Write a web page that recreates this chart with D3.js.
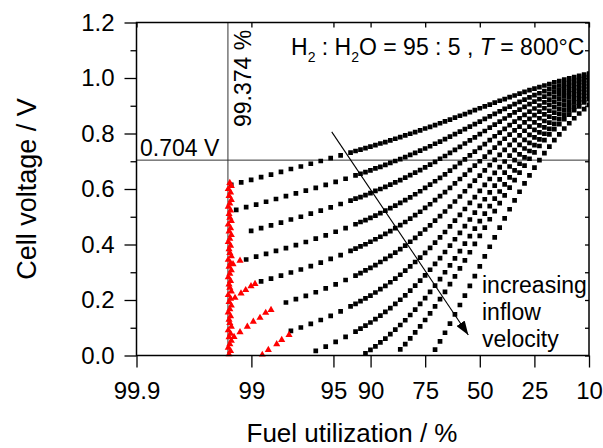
<!DOCTYPE html>
<html>
<head>
<meta charset="utf-8">
<script src="https://cdn.jsdelivr.net/npm/d3@7"></script>
<style>
  body { margin: 0; background: #fff; }
  svg text { font-family: Arial, "Liberation Sans", sans-serif; white-space: pre; }
</style>
</head>
<body>
<svg id="chart"></svg>
<script>
// Dimensions
const width = 603;
const height = 448;
const margin = { top: 22.5, right: 14, bottom: 92.5, left: 136.5 };

// Axis ticks
const xTicks = [99.9, 99, 95, 90, 75, 50, 25, 10];
const xTickLabels = ["99.9", "99", "95", "90", "75", "50", "25", "10"];
const yTicks = [0, 0.2, 0.4, 0.6, 0.8, 1.0, 1.2];
const yMinor = [0.1, 0.3, 0.5, 0.7, 0.9, 1.1];

// Reference values marked on the chart
const refVoltage = 0.704;
const refUtilization = 99.374;

// Fuel utilization (%) at which the voltage of every curve is read
const fuGrid = [
  99.331, 99.261, 99.184, 99.099, 99.005, 98.901, 98.787, 98.661, 98.523, 98.370,
  98.201, 98.016, 97.812, 97.587, 97.340, 97.069, 96.771, 96.443, 96.083, 95.689,
  95.257, 94.785, 94.268, 93.703, 93.086, 92.414, 91.683, 90.888, 90.025, 89.090,
  88.080, 86.989, 85.815, 84.554, 83.202, 81.757, 80.218, 78.584, 76.852, 75.026,
  73.106, 71.095, 68.997, 66.819, 64.566, 62.246, 59.869, 57.444, 54.983, 52.498,
  50.000, 47.502, 45.017, 42.556, 40.131, 37.754, 35.434, 33.181, 31.003, 28.905,
  26.894, 24.974, 23.148, 21.416, 19.782, 18.243, 16.798, 15.447, 14.185, 13.011,
  11.920, 10.910, 9.975
];

const _ = null;
const lead = (n, values) => Array(n).fill(null).concat(values);

// Cell voltage (V), one array per inflow velocity (lowest first)
const curve1 = [
  0.615, _, 0.624, _, 0.633, _, 0.643, _, 0.652, _,
  0.662, _, 0.672, _, 0.681, _, 0.691, _, 0.701, _,
  0.711, _, 0.721, _, 0.731, 0.737, 0.742, 0.747, 0.753, 0.758,
  0.764, 0.769, 0.775, 0.781, 0.787, 0.793, 0.799, 0.805, 0.811, 0.818,
  0.824, 0.830, 0.837, 0.844, 0.850, 0.857, 0.864, 0.870, 0.877, 0.884,
  0.891, 0.898, 0.904, 0.911, 0.918, 0.924, 0.931, 0.937, 0.944, 0.950,
  0.956, 0.962, 0.967, 0.973, 0.978, 0.984, 0.989, 0.994, 0.999, 1.003,
  1.008, 1.012, 1.016
];
const curve2 = [
  _, 0.525, _, 0.535, _, 0.544, _, 0.554, _, 0.564,
  _, 0.574, _, 0.584, _, 0.594, _, 0.604, _, 0.615,
  _, 0.626, _, 0.637, _, 0.649, 0.655, 0.661, 0.667, 0.674,
  0.680, 0.687, 0.694, 0.701, 0.708, 0.715, 0.723, 0.730, 0.738, 0.746,
  0.754, 0.763, 0.771, 0.780, 0.789, 0.798, 0.807, 0.816, 0.825, 0.834,
  0.843, 0.853, 0.862, 0.871, 0.880, 0.889, 0.897, 0.906, 0.914, 0.922,
  0.930, 0.938, 0.945, 0.953, 0.960, 0.966, 0.973, 0.979, 0.985, 0.991,
  0.996, 1.002, 1.007
];
const curve3 = [
  _, _, _, _, 0.449, _, 0.459, _, 0.469, _,
  0.479, _, 0.490, _, 0.500, _, 0.511, _, 0.522, _,
  0.534, _, 0.546, _, 0.558, 0.565, 0.571, 0.578, 0.585, 0.593,
  0.600, 0.608, 0.616, 0.624, 0.632, 0.641, 0.650, 0.659, 0.668, 0.678,
  0.688, 0.698, 0.709, 0.719, 0.730, 0.741, 0.752, 0.764, 0.775, 0.786,
  0.798, 0.809, 0.821, 0.832, 0.843, 0.854, 0.865, 0.876, 0.886, 0.896,
  0.906, 0.915, 0.924, 0.933, 0.942, 0.950, 0.958, 0.965, 0.972, 0.979,
  0.986, 0.992, 0.998
];
const curve4 = [
  _, _, _, 0.346, _, 0.356, _, 0.366, _, 0.377,
  _, 0.387, _, 0.398, _, 0.409, _, 0.421, _, 0.433,
  _, 0.446, _, 0.459, _, 0.473, 0.481, 0.488, 0.496, 0.504,
  0.513, 0.522, 0.531, 0.540, 0.550, 0.560, 0.570, 0.581, 0.592, 0.604,
  0.616, 0.628, 0.640, 0.653, 0.666, 0.680, 0.693, 0.707, 0.721, 0.735,
  0.748, 0.762, 0.776, 0.790, 0.803, 0.817, 0.830, 0.843, 0.855, 0.867,
  0.879, 0.890, 0.901, 0.912, 0.922, 0.932, 0.941, 0.950, 0.958, 0.966,
  0.974, 0.981, 0.988
];
const curve5 = [
  _, _, _, _, _, _, 0.267, _, 0.277, _,
  0.288, _, 0.299, _, 0.310, _, 0.322, _, 0.335, _,
  0.348, _, 0.362, _, 0.377, 0.385, 0.393, 0.401, 0.410, 0.419,
  0.428, 0.438, 0.448, 0.459, 0.470, 0.481, 0.493, 0.506, 0.518, 0.532,
  0.545, 0.560, 0.574, 0.589, 0.604, 0.620, 0.636, 0.652, 0.668, 0.684,
  0.700, 0.717, 0.733, 0.749, 0.765, 0.781, 0.796, 0.811, 0.825, 0.840,
  0.853, 0.866, 0.879, 0.891, 0.903, 0.914, 0.925, 0.935, 0.945, 0.954,
  0.962, 0.970, 0.978
];
const curve6 = lead(10, [
  _, 0.191, _, 0.203, _, 0.215, _, 0.228, _, 0.242,
  _, 0.256, _, 0.272, _, 0.288, 0.297, 0.307, 0.316, 0.326,
  0.337, 0.348, 0.359, 0.371, 0.383, 0.396, 0.410, 0.424, 0.439, 0.454,
  0.469, 0.486, 0.502, 0.519, 0.537, 0.555, 0.573, 0.592, 0.611, 0.630,
  0.648, 0.667, 0.686, 0.705, 0.723, 0.741, 0.759, 0.776, 0.793, 0.810,
  0.825, 0.840, 0.855, 0.869, 0.882, 0.895, 0.907, 0.919, 0.930, 0.940,
  0.950, 0.959, 0.968
]);
const curve7 = lead(10, [
  _, _, 0.089, _, 0.101, _, 0.114, _, 0.128, _,
  0.143, _, 0.159, _, 0.177, 0.186, 0.196, 0.206, 0.216, 0.227,
  0.239, 0.251, 0.264, 0.277, 0.291, 0.306, 0.321, 0.337, 0.353, 0.370,
  0.388, 0.407, 0.426, 0.445, 0.465, 0.486, 0.507, 0.528, 0.550, 0.571,
  0.593, 0.615, 0.636, 0.658, 0.679, 0.699, 0.720, 0.740, 0.759, 0.777,
  0.795, 0.813, 0.829, 0.845, 0.861, 0.875, 0.889, 0.902, 0.914, 0.926,
  0.937, 0.947, 0.957
]);
const curve8 = lead(17, [
  0.017, _, 0.032, _, 0.049, _, 0.067, _, 0.086, 0.097, 0.108, 0.119, 0.131,
  0.144, 0.157, 0.171, 0.186, 0.201, 0.217, 0.234, 0.252, 0.270, 0.289,
  0.309, 0.330, 0.351, 0.373, 0.396, 0.419, 0.442, 0.466, 0.490, 0.515,
  0.539, 0.563, 0.588, 0.612, 0.635, 0.659, 0.681, 0.704, 0.725, 0.746,
  0.766, 0.786, 0.804, 0.822, 0.839, 0.855, 0.871, 0.885, 0.899, 0.912,
  0.924, 0.935, 0.946
]);
const curve9 = lead(27, [
  0.008, 0.020, 0.033,
  0.047, 0.061, 0.077, 0.093, 0.110, 0.127, 0.146, 0.165, 0.186, 0.207,
  0.229, 0.252, 0.275, 0.300, 0.325, 0.350, 0.376, 0.403, 0.430, 0.457,
  0.484, 0.511, 0.538, 0.565, 0.591, 0.617, 0.642, 0.667, 0.691, 0.714,
  0.737, 0.758, 0.779, 0.799, 0.817, 0.835, 0.852, 0.868, 0.883, 0.897,
  0.911, 0.923, 0.935
]);
const curve10 = lead(34, [
  0.022, 0.041, 0.062, 0.083, 0.105, 0.128,
  0.152, 0.177, 0.203, 0.229, 0.257, 0.285, 0.314, 0.343, 0.372, 0.402,
  0.431, 0.461, 0.491, 0.520, 0.549, 0.577, 0.605, 0.632, 0.659, 0.684,
  0.709, 0.732, 0.755, 0.776, 0.797, 0.816, 0.834, 0.852, 0.868, 0.884,
  0.898, 0.912, 0.924
]);
const curve11 = lead(41, [
  0.021, 0.051, 0.082, 0.115, 0.148, 0.182, 0.216, 0.251, 0.286,
  0.321, 0.357, 0.392, 0.426, 0.461, 0.494, 0.527, 0.559, 0.590, 0.620,
  0.649, 0.677, 0.704, 0.729, 0.753, 0.776, 0.797, 0.818, 0.837, 0.855,
  0.872, 0.888, 0.903
]);
const curves = [curve1, curve2, curve3, curve4, curve5, curve6, curve7, curve8, curve9, curve10, curve11];

// Red points: tails bending down at very high utilization
const redTailFU = [
  99.203, 99.307,
  98.925, 99.008, 99.107, 99.187, 99.279,
  98.523, 98.671, 98.813, 98.961, 99.078, 99.203, 99.293,
  97.892, 98.175, 98.347, 98.600, 98.758
];
const redTailV = [
  0.342, 0.329,
  0.258, 0.250, 0.236, 0.224, 0.208,
  0.164, 0.154, 0.136, 0.122, 0.104, 0.084, 0.067,
  0.074, 0.056, 0.041, 0.020, 0.002
];
// Red points piled up at the utilization limit
const redColumnFU = [
  99.35, 99.33, 99.37, 99.34, 99.36, 99.33, 99.35, 99.37, 99.34, 99.36,
  99.35, 99.33, 99.37, 99.34, 99.36, 99.33, 99.35, 99.37, 99.34, 99.36,
  99.35, 99.33, 99.37, 99.34, 99.36, 99.33, 99.35, 99.37, 99.34, 99.36,
  99.35, 99.33, 99.37, 99.34, 99.36, 99.33, 99.35, 99.37, 99.34, 99.36,
  99.35, 99.33, 99.37, 99.34, 99.36, 99.33, 99.35, 99.37, 99.34, 99.36
];
const redColumnV = [
  0.622, 0.611, 0.600, 0.588, 0.575, 0.561, 0.548, 0.536, 0.523, 0.510,
  0.497, 0.485, 0.472, 0.459, 0.447, 0.434, 0.421, 0.409, 0.396, 0.383,
  0.370, 0.358, 0.345, 0.333, 0.320, 0.307, 0.295, 0.282, 0.269, 0.256,
  0.244, 0.231, 0.218, 0.205, 0.193, 0.180, 0.167, 0.155, 0.142, 0.129,
  0.117, 0.104, 0.091, 0.079, 0.066, 0.053, 0.041, 0.028, 0.016, 0.004
];

// Arrow "increasing inflow velocity" (utilization %, voltage)
const arrowFrom = [95.16, 0.806];
const arrowTo = [55.74, 0.074];

const svg = d3.select("#chart")
    .attr("width", width)
    .attr("height", height);

// logit scale for fuel utilization
const logit = p => Math.log(p / (100 - p));
const xLin = d3.scaleLinear()
    .domain([logit(99.9), logit(10)])
    .range([margin.left, width - margin.right]);
const x = fu => xLin(logit(fu));

const y = d3.scaleLinear()
    .domain([0, 1.2])
    .range([height - margin.bottom, margin.top]);

const plotW = width - margin.left - margin.right;
const plotH = height - margin.top - margin.bottom;

svg.append("defs").append("clipPath")
    .attr("id", "plotClip")
    .append("rect")
    .attr("x", margin.left)
    .attr("y", margin.top)
    .attr("width", plotW)
    .attr("height", plotH + 1);

function styleAxis(g, size) {
    g.attr("font-family", null).attr("font-size", size);
    g.select(".domain").remove();
    g.selectAll(".tick line").attr("stroke", "#000").attr("stroke-width", 1.3);
    g.selectAll(".tick text").attr("fill", "#000");
}

// Bottom axis
svg.append("g")
    .attr("transform", `translate(0,${y(0)})`)
    .call(d3.axisBottom(xLin)
        .tickValues(xTicks.map(logit))
        .tickFormat((d, i) => xTickLabels[i])
        .tickSize(12)
        .tickPadding(14))
    .call(g => styleAxis(g, 24));

// Top axis (inner ticks only)
svg.append("g")
    .attr("transform", `translate(0,${margin.top})`)
    .call(d3.axisTop(xLin).tickValues(xTicks.map(logit)).tickFormat("").tickSize(-5))
    .call(g => styleAxis(g, 24));

// Left axis
svg.append("g")
    .attr("transform", `translate(${margin.left},0)`)
    .call(d3.axisLeft(y)
        .tickValues(yTicks)
        .tickFormat(d3.format(".1f"))
        .tickSize(12)
        .tickPadding(10))
    .call(g => styleAxis(g, 24));

svg.append("g")
    .attr("transform", `translate(${margin.left},0)`)
    .call(d3.axisLeft(y).tickValues(yMinor).tickFormat("").tickSize(6))
    .call(g => styleAxis(g, 24));

// Right axis (inner ticks)
svg.append("g")
    .attr("transform", `translate(${width - margin.right},0)`)
    .call(d3.axisRight(y).tickValues(yTicks.concat(yMinor)).tickFormat("").tickSize(-4))
    .call(g => styleAxis(g, 24));

// Reference lines
svg.append("line")
    .attr("x1", margin.left)
    .attr("x2", width - margin.right)
    .attr("y1", y(refVoltage))
    .attr("y2", y(refVoltage))
    .attr("stroke", "#333")
    .attr("stroke-width", 1);

svg.append("line")
    .attr("x1", x(refUtilization))
    .attr("x2", x(refUtilization))
    .attr("y1", margin.top)
    .attr("y2", y(0))
    .attr("stroke", "#333")
    .attr("stroke-width", 1);

// Points
const blackPoints = [];
curves.forEach((vals, k) => {
    vals.forEach((v, i) => {
        if (v !== null) blackPoints.push({ fu: fuGrid[i], v: v, k: k });
    });
});

const redPoints = redTailFU.map((fu, i) => ({ fu: fu, v: redTailV[i] }))
    .concat(redColumnFU.map((fu, i) => ({ fu: fu, v: redColumnV[i] })));

const marks = svg.append("g").attr("clip-path", "url(#plotClip)");

marks.selectAll("path.sq")
    .data(blackPoints)
    .join("path")
    .attr("class", "sq")
    .attr("d", d3.symbol(d3.symbolSquare, 22))
    .attr("transform", d => `translate(${x(d.fu)},${y(d.v)})`)
    .attr("fill", "#000");

marks.selectAll("path.tri")
    .data(redPoints)
    .join("path")
    .attr("class", "tri")
    .attr("d", d3.symbol(d3.symbolTriangle, 22))
    .attr("transform", d => `translate(${x(d.fu)},${y(d.v)})`)
    .attr("fill", "#ff0000");

// Frame
svg.append("rect")
    .attr("x", margin.left)
    .attr("y", margin.top)
    .attr("width", plotW)
    .attr("height", plotH)
    .attr("fill", "none")
    .attr("stroke", "#000")
    .attr("stroke-width", 1.5);

// Arrow
svg.append("defs").append("marker")
    .attr("id", "head")
    .attr("viewBox", "0 0 14 10")
    .attr("refX", 14)
    .attr("refY", 5)
    .attr("markerWidth", 14)
    .attr("markerHeight", 10)
    .attr("markerUnits", "userSpaceOnUse")
    .attr("orient", "auto")
    .append("path")
    .attr("d", "M0,0 L14,5 L0,10 Z")
    .attr("fill", "#000");

svg.append("line")
    .attr("x1", x(arrowFrom[0]))
    .attr("y1", y(arrowFrom[1]))
    .attr("x2", x(arrowTo[0]))
    .attr("y2", y(arrowTo[1]))
    .attr("stroke", "#000")
    .attr("stroke-width", 1.1)
    .attr("marker-end", "url(#head)");

// Annotations
const title = svg.append("text")
    .attr("x", 291)
    .attr("y", 55)
    .attr("font-size", 23)
    .attr("fill", "#000");
title.append("tspan").text("H");
title.append("tspan").attr("font-size", 14).attr("dy", 7).text("2");
title.append("tspan").attr("dy", -7).text(" : H");
title.append("tspan").attr("font-size", 14).attr("dy", 7).text("2");
title.append("tspan").attr("dy", -7).text("O = 95 : 5 , ");
title.append("tspan").attr("font-style", "italic").text("T");
title.append("tspan").text(" = 800°C");

svg.append("text")
    .attr("transform", "translate(251,127) rotate(-90)")
    .attr("font-size", 23)
    .text("99.374 %");

svg.append("text")
    .attr("x", 140)
    .attr("y", 156)
    .attr("font-size", 23)
    .text("0.704 V");

["increasing", "inflow", "velocity"].forEach((t, i) => {
    svg.append("text")
        .attr("x", 482)
        .attr("y", 293 + i * 27)
        .attr("font-size", 23)
        .text(t);
});

// Axis titles
svg.append("text")
    .attr("transform", `translate(36,${margin.top + plotH / 2}) rotate(-90)`)
    .attr("text-anchor", "middle")
    .attr("font-size", 27)
    .text("Cell voltage / V");

svg.append("text")
    .attr("x", 352)
    .attr("y", 442)
    .attr("text-anchor", "middle")
    .attr("font-size", 26)
    .text("Fuel utilization / %");
</script>
</body>
</html>
